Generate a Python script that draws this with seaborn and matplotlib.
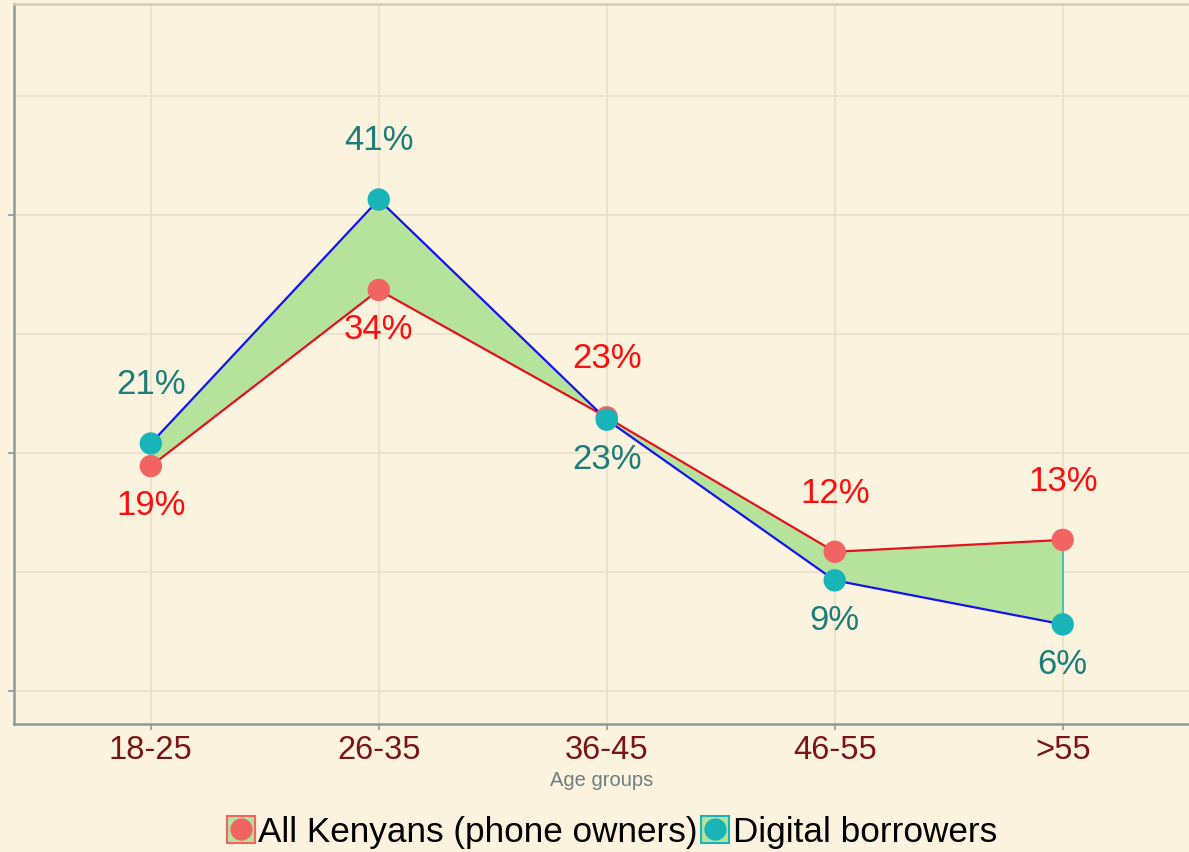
import matplotlib
matplotlib.use("Agg")
import matplotlib.pyplot as plt
from matplotlib.patches import Patch
from matplotlib.lines import Line2D
import numpy as np
import pandas as pd
import seaborn as sns

# data (shares of each group)
age_groups = ["18-25", "26-35", "36-45", "46-55", ">55"]
all_kenyans = [0.189, 0.337, 0.230, 0.117, 0.127]
digital_borrowers = [0.208, 0.413, 0.228, 0.093, 0.056]
all_labels = ["19%", "34%", "23%", "12%", "13%"]
digital_labels = ["21%", "41%", "23%", "9%", "6%"]
# label above (+1) or below (-1) the point
all_side = [-1, -1, 1, 1, 1]
digital_side = [1, 1, -1, -1, -1]

bg = "#fcf3de"
red_line, blue_line = "#e3121e", "#1212f2"
red_pt, teal_pt = "#f26461", "#18b4b8"
fill_col = "#b6e39b"
red_txt, teal_txt = "#fa1010", "#1e7d78"

sns.set_theme(style="white")
plt.rcParams["font.family"] = ["Liberation Sans", "DejaVu Sans"]

pos = np.arange(len(age_groups))
df = pd.DataFrame({
    "pos": np.concatenate([pos, pos]),
    "share": all_kenyans + digital_borrowers,
    "group": ["All Kenyans (phone owners)"] * len(pos) + ["Digital borrowers"] * len(pos),
})

fig = plt.figure(figsize=(11.89, 8.53), dpi=100, facecolor=bg)
ax = fig.add_axes([14 / 1189, 1 - 725 / 853, 1 - 14 / 1189, 720 / 853])
ax.set_facecolor(bg)

ax.fill_between(pos, all_kenyans, digital_borrowers, color=fill_col, lw=0, zorder=2)
ax.plot([pos[-1], pos[-1]], [all_kenyans[-1], digital_borrowers[-1]], color="#3cc0b8", lw=1.3, zorder=2)

sns.lineplot(data=df, x="pos", y="share", hue="group",
             palette=[red_line, blue_line], lw=1.6, legend=False, ax=ax, zorder=3)
sns.scatterplot(data=df, x="pos", y="share", hue="group",
                palette=[red_pt, teal_pt], s=260, linewidth=0, legend=False, ax=ax, zorder=4)

for i in range(len(pos)):
    for vals, labs, side, col in [(all_kenyans, all_labels, all_side, red_txt),
                                  (digital_borrowers, digital_labels, digital_side, teal_txt)]:
        dy = 43 if side[i] > 0 else -28
        ax.annotate(labs[i], (pos[i], vals[i]), xytext=(0, dy), textcoords="offset points",
                    ha="center", va="center", fontsize=25, color=col, zorder=5)

ax.set_xlim(-0.6, 4.554)
ax.set_ylim(-0.0277, 0.5773)
ax.set_xticks(pos)
ax.set_xticklabels(age_groups, fontsize=23.5, color="#7b1416")
ax.set_yticks([0, 0.2, 0.4])
ax.set_yticks([0.1, 0.3, 0.5], minor=True)
ax.set_yticklabels([])
ax.grid(True, which="both", color="#ebe3cc", lw=1.4)
ax.set_axisbelow(True)
ax.tick_params(axis="both", which="major", length=4, width=1.2, color="#8c9a99",
               direction="out", left=True, bottom=True, pad=3)
ax.tick_params(axis="y", which="minor", length=0)
ax.set_xlabel("Age groups", fontsize=14.5, color="#6e7f80", labelpad=4)
ax.set_ylabel("")

for s in ["left", "bottom"]:
    ax.spines[s].set_color("#8c9a99")
    ax.spines[s].set_linewidth(1.8)
ax.spines["top"].set_color("#cfcdbd")
ax.spines["top"].set_linewidth(1.8)
ax.spines["right"].set_visible(False)

handles = [
    (Patch(facecolor=fill_col, edgecolor=red_pt, lw=1.5),
     Line2D([], [], ls="", marker="o", ms=15, color=red_pt)),
    (Patch(facecolor=fill_col, edgecolor=teal_pt, lw=1.5),
     Line2D([], [], ls="", marker="o", ms=15, color=teal_pt)),
]
fig.legend(handles, ["All Kenyans (phone owners)", "Digital borrowers"],
           loc="center", bbox_to_anchor=(612 / 1189, 1 - 833 / 853), ncol=2,
           frameon=False, fontsize=25.3, handlelength=0.8, handleheight=0.8,
           handletextpad=0.1, columnspacing=0.1, labelcolor="black")

fig.savefig("out.png", dpi=100, facecolor=bg)
